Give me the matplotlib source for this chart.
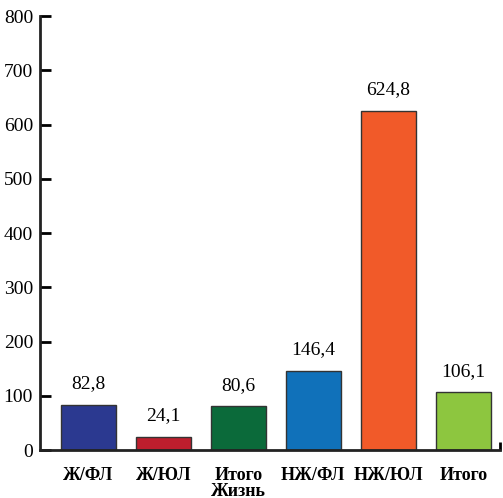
import numpy as np
import matplotlib
matplotlib.use('Agg')
import matplotlib.pyplot as plt

categories = ['Ж/ФЛ', 'Ж/ЮЛ', 'Итого\nЖизнь', 'НЖ/ФЛ', 'НЖ/ЮЛ', 'Итого']
values = [82.8, 24.1, 80.6, 146.4, 624.8, 106.1]
colors = ['#2b3990', '#be1e2d', '#0b6a3a', '#1071ba', '#f15a29', '#8dc63f']
yticks = [0, 100, 200, 300, 400, 500, 600, 700, 800]

plt.rcParams['font.family'] = ['Liberation Serif', 'DejaVu Serif']

fig = plt.figure(figsize=(5.03, 4.98), dpi=100)
ax = fig.add_axes([40 / 503, 48 / 498, 460 / 503, 434 / 498])

x = np.arange(len(categories))
bars = ax.bar(x, values, width=0.733, color=colors, edgecolor='#333333', linewidth=1)

for xi, v in zip(x, values):
    ax.annotate(('%.1f' % v).replace('.', ','), (xi, v), xytext=(0, 9),
                textcoords='offset points', ha='center', va='bottom', fontsize=14)

ax.set_xlim(-0.647, 5.49)
ax.set_ylim(0, 800)
ax.set_yticks(yticks)
ax.set_yticklabels([str(t) for t in yticks], fontsize=14)
ax.set_xticks(x)
ax.set_xticklabels(categories, fontsize=13, fontweight='bold', va='top', linespacing=0.95)
ax.tick_params(axis='x', length=0, pad=12)
ax.tick_params(axis='y', direction='in', length=8, width=2, pad=5)
ax.set_xticks([5.49], minor=True)
ax.tick_params(axis='x', which='minor', direction='in', length=6, width=2)

for s in ['top', 'right']:
    ax.spines[s].set_visible(False)
for s in ['left', 'bottom']:
    ax.spines[s].set_linewidth(2)
    ax.spines[s].set_color('#222222')

fig.savefig('out.png', dpi=100)
